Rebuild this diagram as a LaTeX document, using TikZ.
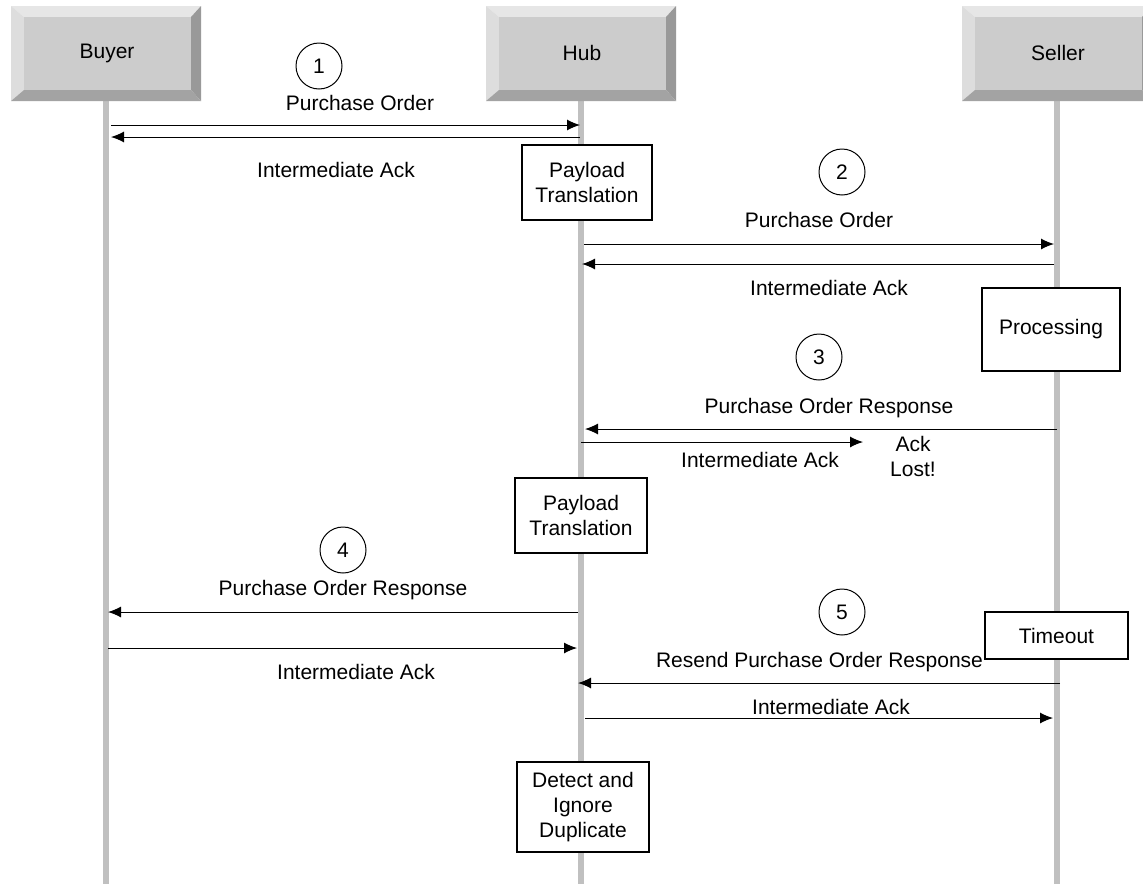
\documentclass[tikz,border=0pt]{standalone}
\usepackage{fontspec}
\setmainfont{Liberation Sans}
\usetikzlibrary{arrows.meta}
\definecolor{lifegray}{HTML}{C0C0C0}
\definecolor{bevtop}{HTML}{E6E6E6}
\definecolor{bevleft}{HTML}{DDDDDD}
\definecolor{bevface}{HTML}{CCCCCC}
\definecolor{bevright}{HTML}{999999}
\definecolor{bevbottom}{HTML}{A3A3A3}
\tikzset{>={Latex[length=13pt,width=11pt]}}
\tikzset{
  msg/.style={->,line width=1pt},
  lbl/.style={font=\fontsize{21}{25}\selectfont,align=center,inner sep=0pt},
  stepno/.style={draw,circle,minimum size=46pt,inner sep=0pt,line width=1pt,
    font=\fontsize{21}{25}\selectfont},
  act/.style={draw,fill=white,line width=1.5pt,align=center,inner sep=0pt,
    font=\fontsize{21}{25}\selectfont},
}

\begin{document}
\begin{tikzpicture}[x=1pt,y=1pt]
  \clip (0,0) rectangle (1143,-884);
  % lifelines with bevelled heads
  \foreach \X/\N/\T in {106/buyer/Buyer, 581/hub/Hub, 1057/seller/Seller} {%
    \coordinate (\N) at (\X,0);
    \draw[lifegray,line width=6pt] (\X,-100) -- (\X,-884);
    \fill[bevtop] (\X-95,-6) -- (\X+95,-6) -- (\X+85,-17) -- (\X-82,-17) -- cycle;
    \fill[bevleft] (\X-95,-6) -- (\X-82,-17) -- (\X-82,-90) -- (\X-95,-101) -- cycle;
    \fill[bevright] (\X+95,-6) -- (\X+85,-17) -- (\X+85,-90) -- (\X+95,-101) -- cycle;
    \fill[bevbottom] (\X-95,-101) -- (\X-82,-90) -- (\X+85,-90) -- (\X+95,-101) -- cycle;
    \fill[bevface] (\X-82,-17) rectangle (\X+85,-90);
    \node[lbl] (\N head) at (\X+1,-53) {\T};
  }

  % step 1
  \node[stepno] (s1) at (319,-66) {1};
  \node[lbl] (po1) at (360,-103) {Purchase Order};
  \draw[msg] ([xshift=5pt]buyer |- 0,-125) -- ([xshift=-1pt]hub |- 0,-125);
  \draw[msg] ([xshift=-1pt]hub |- 0,-137) -- ([xshift=5pt]buyer |- 0,-137);
  \node[lbl] (ack1) at (336,-170) {Intermediate Ack};
  \node[act,minimum width=130pt,minimum height=75pt] (pay1) at (587,-182.5)
    {Payload\\Translation};

  % step 2
  \node[stepno] (s2) at (842,-172) {2};
  \node[lbl] (po2) at (819,-220) {Purchase Order};
  \draw[msg] ([xshift=3pt]hub |- 0,-244) -- ([xshift=-3pt]seller |- 0,-244);
  \draw[msg] ([xshift=-3pt]seller |- 0,-264) -- ([xshift=1pt]hub |- 0,-264);
  \node[lbl] (ack2) at (829,-288) {Intermediate Ack};
  \node[act,minimum width=138pt,minimum height=83pt] (proc) at (1051,-329.5)
    {Processing};

  % step 3
  \node[stepno] (s3) at (819,-357) {3};
  \node[lbl] (por3) at (829,-408) {Purchase Order Response};
  \draw[msg] (seller |- 0,-429) -- ([xshift=4pt]hub |- 0,-429);
  \coordinate (lostend) at (863,-442);
  \draw[msg] (hub |- 0,-442) -- (lostend);
  \node[lbl] (ack3) at (760,-460) {Intermediate Ack};
  \node[lbl] (lost) at (913,-456) {Ack\\Lost!};
  \node[act,minimum width=132pt,minimum height=75pt] (pay2) at (581,-515.5)
    {Payload\\Translation};

  % step 4
  \node[stepno] (s4) at (343,-550) {4};
  \node[lbl] (por4) at (343,-590) {Purchase Order Response};
  \draw[msg] ([xshift=-3pt]hub |- 0,-612) -- ([xshift=2pt]buyer |- 0,-612);
  \draw[msg] ([xshift=2pt]buyer |- 0,-648) -- ([xshift=-4pt]hub |- 0,-648);
  \node[lbl] (ack4) at (356,-672) {Intermediate Ack};

  % step 5
  \node[stepno] (s5) at (842,-612) {5};
  \node[act,minimum width=143pt,minimum height=47pt] (tout) at (1056.5,-635.5)
    {Timeout};
  \node[lbl] (resend) at (819.5,-662) {Resend Purchase Order Response};
  \draw[msg] ([xshift=3pt]seller |- 0,-683) -- ([xshift=-3pt]hub |- 0,-683);
  \node[lbl] (ack5) at (831,-707) {Intermediate Ack};
  \draw[msg] ([xshift=4pt]hub |- 0,-718) -- ([xshift=-4pt]seller |- 0,-718);

  \node[act,minimum width=132pt,minimum height=90pt] (dup) at (583,-807)
    {Detect and\\Ignore\\Duplicate};
\end{tikzpicture}
\end{document}
